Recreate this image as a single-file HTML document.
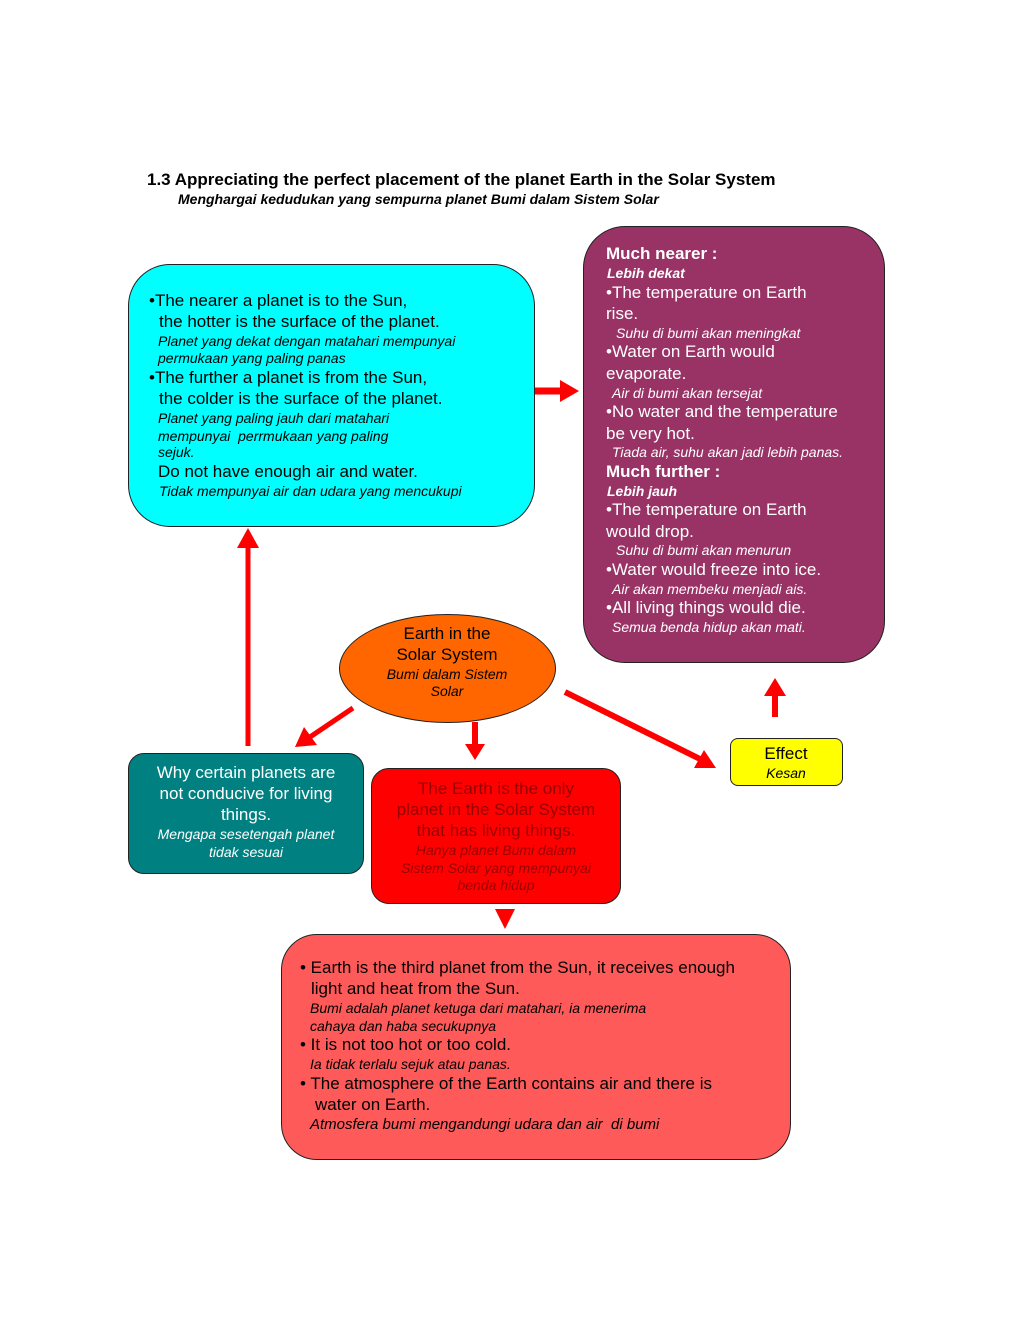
<!DOCTYPE html>
<html><head><meta charset="utf-8"><style>
body{margin:0;width:1024px;height:1326px;background:#fff;position:relative;font-family:"Liberation Sans",sans-serif;overflow:hidden}
.b{position:absolute;box-sizing:border-box;border:1.5px solid #222}
.t{position:absolute;white-space:pre;line-height:1;font-size:17px}
.i{font-style:italic;font-size:14px}
.w{color:#fff}
.c{transform:translateX(-50%)}
</style></head><body>
<div class="t" style="left:147px;top:171px;font-weight:bold;font-size:17px">1.3 Appreciating the perfect placement of the planet Earth in the Solar System</div>
<div class="t" style="left:178px;top:192px;font-weight:bold;font-style:italic;font-size:14px">Menghargai kedudukan yang sempurna planet Bumi dalam Sistem Solar</div>

<div class="b" style="left:128px;top:264px;width:407px;height:263px;background:#00ffff;border-radius:42px"></div>
<div class="b" style="left:583px;top:226px;width:302px;height:437px;background:#993366;border-radius:42px"></div>
<div class="b" style="left:339px;top:614px;width:217px;height:109px;background:#ff6600;border-radius:50%"></div>
<div class="b" style="left:128px;top:753px;width:236px;height:121px;background:#008080;border-radius:16px"></div>
<div class="b" style="left:371px;top:768px;width:250px;height:136px;background:#ff0000;border-radius:18px"></div>
<div class="b" style="left:730px;top:738px;width:113px;height:48px;background:#ffff00;border-radius:8px"></div>
<div class="b" style="left:281px;top:934px;width:510px;height:226px;background:#ff5a5a;border-radius:36px"></div>

<svg style="position:absolute;left:0;top:0" width="1024" height="1326">
<g fill="#ff0000" stroke="#ff0000">
<line x1="535" y1="391" x2="562" y2="391" stroke-width="7"/><polygon points="560,380 579,391 560,402" stroke="none"/>
<line x1="248" y1="746" x2="248" y2="545" stroke-width="5"/><polygon points="237,548 248,528 259,548" stroke="none"/>
<line x1="353" y1="708" x2="310" y2="737" stroke-width="5"/><polygon points="295,747 304,727 317,745" stroke="none"/>
<line x1="475" y1="722" x2="475" y2="745" stroke-width="6"/><polygon points="465,744 485,744 475,760" stroke="none"/>
<line x1="565" y1="692" x2="700" y2="759" stroke-width="6"/><polygon points="716,768 694,768 704,750" stroke="none"/>
<line x1="775" y1="717" x2="775" y2="694" stroke-width="6"/><polygon points="764,696 775,678 786,696" stroke="none"/>
<polygon points="495,909 515,909 505,929" stroke="none"/>
</g></svg>

<!-- cyan -->
<div class="t" style="left:149px;top:292px">•The nearer a planet is to the Sun,</div>
<div class="t" style="left:159px;top:313px">the hotter is the surface of the planet.</div>
<div class="t i" style="left:158px;top:334px">Planet yang dekat dengan matahari mempunyai</div>
<div class="t i" style="left:158px;top:351px">permukaan yang paling panas</div>
<div class="t" style="left:149px;top:369px">•The further a planet is from the Sun,</div>
<div class="t" style="left:159px;top:390px">the colder is the surface of the planet.</div>
<div class="t i" style="left:158px;top:411px">Planet yang paling jauh dari matahari</div>
<div class="t i" style="left:158px;top:429px">mempunyai  perrmukaan yang paling</div>
<div class="t i" style="left:158px;top:445px">sejuk.</div>
<div class="t" style="left:158px;top:463px">Do not have enough air and water.</div>
<div class="t i" style="left:159px;top:484px">Tidak mempunyai air dan udara yang mencukupi</div>

<!-- purple -->
<div class="t w" style="left:606px;top:245px;font-weight:bold">Much nearer :</div>
<div class="t w" style="left:607px;top:266px;font-weight:bold;font-style:italic;font-size:14px">Lebih dekat</div>
<div class="t w" style="left:606px;top:284px">•The temperature on Earth</div>
<div class="t w" style="left:606px;top:305px">rise.</div>
<div class="t w i" style="left:616px;top:326px">Suhu di bumi akan meningkat</div>
<div class="t w" style="left:606px;top:343px">•Water on Earth would</div>
<div class="t w" style="left:606px;top:365px">evaporate.</div>
<div class="t w i" style="left:612px;top:386px">Air di bumi akan tersejat</div>
<div class="t w" style="left:606px;top:403px">•No water and the temperature</div>
<div class="t w" style="left:606px;top:425px">be very hot.</div>
<div class="t w i" style="left:612px;top:445px">Tiada air, suhu akan jadi lebih panas.</div>
<div class="t w" style="left:606px;top:463px;font-weight:bold">Much further :</div>
<div class="t w" style="left:607px;top:484px;font-weight:bold;font-style:italic;font-size:14px">Lebih jauh</div>
<div class="t w" style="left:606px;top:501px">•The temperature on Earth</div>
<div class="t w" style="left:606px;top:523px">would drop.</div>
<div class="t w i" style="left:616px;top:543px">Suhu di bumi akan menurun</div>
<div class="t w" style="left:606px;top:561px">•Water would freeze into ice.</div>
<div class="t w i" style="left:612px;top:582px">Air akan membeku menjadi ais.</div>
<div class="t w" style="left:606px;top:599px">•All living things would die.</div>
<div class="t w i" style="left:612px;top:620px">Semua benda hidup akan mati.</div>

<!-- ellipse -->
<div class="t c" style="left:447px;top:625px">Earth in the</div>
<div class="t c" style="left:447px;top:646px">Solar System</div>
<div class="t c i" style="left:447px;top:667px">Bumi dalam Sistem</div>
<div class="t c i" style="left:447px;top:684px">Solar</div>

<!-- teal -->
<div class="t c w" style="left:246px;top:764px">Why certain planets are</div>
<div class="t c w" style="left:246px;top:785px">not conducive for living</div>
<div class="t c w" style="left:246px;top:806px">things.</div>
<div class="t c w i" style="left:246px;top:827px">Mengapa sesetengah planet</div>
<div class="t c w i" style="left:246px;top:845px">tidak sesuai</div>

<!-- red -->
<div class="t c" style="left:496px;top:780px;color:#990000">The Earth is the only</div>
<div class="t c" style="left:496px;top:801px;color:#990000">planet in the Solar System</div>
<div class="t c" style="left:496px;top:822px;color:#990000">that has living things.</div>
<div class="t c i" style="left:496px;top:843px;color:#990000">Hanya planet Bumi dalam</div>
<div class="t c i" style="left:496px;top:861px;color:#990000">Sistem Solar yang mempunyai</div>
<div class="t c i" style="left:496px;top:878px;color:#990000">benda hidup</div>

<!-- effect -->
<div class="t c" style="left:786px;top:745px">Effect</div>
<div class="t c i" style="left:786px;top:766px">Kesan</div>

<!-- bottom -->
<div class="t" style="left:300px;top:959px">• Earth is the third planet from the Sun, it receives enough</div>
<div class="t" style="left:311px;top:980px">light and heat from the Sun.</div>
<div class="t i" style="left:310px;top:1001px">Bumi adalah planet ketuga dari matahari, ia menerima</div>
<div class="t i" style="left:310px;top:1019px">cahaya dan haba secukupnya</div>
<div class="t" style="left:300px;top:1036px">• It is not too hot or too cold.</div>
<div class="t i" style="left:310px;top:1057px">Ia tidak terlalu sejuk atau panas.</div>
<div class="t" style="left:300px;top:1075px">• The atmosphere of the Earth contains air and there is</div>
<div class="t" style="left:315px;top:1096px">water on Earth.</div>
<div class="t i" style="left:310px;top:1117px;font-size:15px">Atmosfera bumi mengandungi udara dan air  di bumi</div>
</body></html>
